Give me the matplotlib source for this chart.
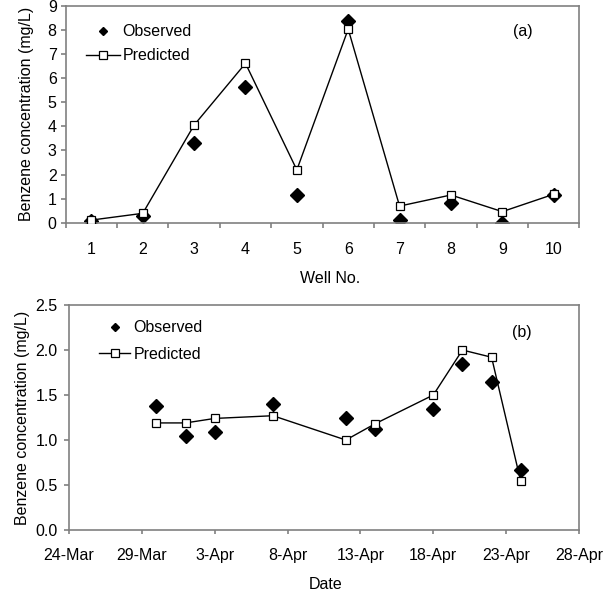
import datetime as dt
import matplotlib
matplotlib.use('Agg')
import matplotlib.pyplot as plt
import matplotlib.dates as mdates
from matplotlib.lines import Line2D
from matplotlib.ticker import FuncFormatter, FixedLocator

plt.rcParams['font.family'] = ['Liberation Sans', 'DejaVu Sans']
plt.rcParams['font.size'] = 11.5

# panel (a): wells
wells = [1, 2, 3, 4, 5, 6, 7, 8, 9, 10]
obs_a = [0.08, 0.28, 3.3, 5.64, 1.15, 8.37, 0.12, 0.8, 0.0, 1.15]
pred_a = [0.11, 0.39, 4.05, 6.61, 2.19, 8.03, 0.69, 1.15, 0.46, 1.18]

# panel (b): dates
obs_dates = ['2003-03-30', '2003-04-01', '2003-04-03', '2003-04-07', '2003-04-12',
             '2003-04-14', '2003-04-18', '2003-04-20', '2003-04-22', '2003-04-24']
obs_b = [1.38, 1.05, 1.09, 1.40, 1.24, 1.12, 1.34, 1.85, 1.64, 0.67]
pred_dates = ['2003-03-30', '2003-04-01', '2003-04-03', '2003-04-07', '2003-04-12',
              '2003-04-14', '2003-04-18', '2003-04-20', '2003-04-22', '2003-04-24']
pred_b = [1.19, 1.19, 1.24, 1.27, 1.00, 1.18, 1.50, 2.00, 1.92, 0.54]
date_ticks = ['2003-03-24', '2003-03-29', '2003-04-03', '2003-04-08',
              '2003-04-13', '2003-04-18', '2003-04-23', '2003-04-28']

obs_dates = [dt.datetime.strptime(d, '%Y-%m-%d') for d in obs_dates]
pred_dates = [dt.datetime.strptime(d, '%Y-%m-%d') for d in pred_dates]
date_ticks = [dt.datetime.strptime(d, '%Y-%m-%d') for d in date_ticks]

frame = '#808080'

fig = plt.figure(figsize=(6.12, 5.96), dpi=100)
ax1 = fig.add_axes([0.1074, 0.6263, 0.8392, 0.3641])
ax2 = fig.add_axes([0.1127, 0.1107, 0.8334, 0.3775])


def style(ax, ypad):
    for s in ax.spines.values():
        s.set_color(frame)
        s.set_linewidth(1.2)
    ax.tick_params(colors=frame, labelcolor='black', width=1.2)
    ax.tick_params(axis='y', direction='out', length=3.5, pad=ypad)


handles = [Line2D([], [], ls='none', marker='D', ms=4.5, color='black'),
           Line2D([], [], color='black', lw=1, marker='s', ms=5.5, mfc='white',
                  mec='black', mew=0.9)]

# (a)
style(ax1, 3)
ax1.plot(wells, pred_a, color='black', lw=1, marker='s', ms=5.5,
         mfc='white', mec='black', mew=0.9, zorder=3)
ax1.plot(wells, obs_a, ls='none', marker='D', ms=7, color='black', zorder=2)
ax1.set_xlim(0.5, 10.5)
ax1.set_ylim(0, 9)
ax1.set_yticks(range(0, 10))
ax1.set_xticks(wells)
ax1.xaxis.set_minor_locator(FixedLocator([w - 0.5 for w in wells] + [10.5]))
ax1.tick_params(axis='x', which='major', length=0, pad=14)
ax1.tick_params(axis='x', which='minor', direction='out', length=3.5, width=1.2, colors=frame)
ax1.set_xlabel('Well No.')
ax1.xaxis.set_label_coords(0.515, -0.2235)
ax1.set_ylabel('Benzene concentration (mg/L)')
ax1.yaxis.set_label_coords(-0.062, 0.5)
ax1.text(0.89, 0.88, '(a)', transform=ax1.transAxes, ha='center', va='center')
ax1.legend(handles, ['Observed', 'Predicted'], loc='upper left',
           bbox_to_anchor=(0.0395, 0.915), frameon=False, borderpad=0, borderaxespad=0,
           handlelength=2.15, handletextpad=0.12, labelspacing=0.56)

# (b)
style(ax2, 4.5)
ax2.plot(pred_dates, pred_b, color='black', lw=1, marker='s', ms=5.5,
         mfc='white', mec='black', mew=0.9, zorder=3)
ax2.plot(obs_dates, obs_b, ls='none', marker='D', ms=7, color='black', zorder=2)
ax2.set_xlim(date_ticks[0], date_ticks[-1])
ax2.set_ylim(0, 2.5)
ax2.set_yticks([0, 0.5, 1.0, 1.5, 2.0, 2.5])
ax2.yaxis.set_major_formatter(FuncFormatter(lambda v, p: f'{v:.1f}'))
ax2.set_xticks(date_ticks)
ax2.xaxis.set_major_formatter(FuncFormatter(
    lambda v, p: f'{mdates.num2date(v).day}-{mdates.num2date(v):%b}'))
ax2.tick_params(axis='x', direction='out', length=3, pad=10)
ax2.set_xlabel('Date')
ax2.xaxis.set_label_coords(0.503, -0.209)
ax2.set_ylabel('Benzene concentration (mg/L)')
ax2.yaxis.set_label_coords(-0.076, 0.5)
ax2.text(0.888, 0.876, '(b)', transform=ax2.transAxes, ha='center', va='center')
ax2.legend(handles, ['Observed', 'Predicted'], loc='upper left',
           bbox_to_anchor=(0.058, 0.9316), frameon=False, borderpad=0, borderaxespad=0,
           handlelength=2.0, handletextpad=0.2, labelspacing=0.7)

fig.savefig('out.png', dpi=100)
